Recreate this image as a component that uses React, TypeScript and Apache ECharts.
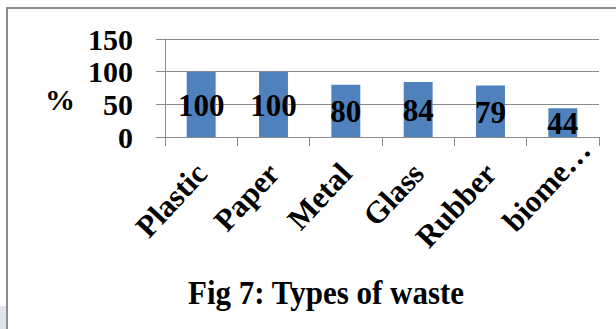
import React, { useEffect, useRef } from "react";
import * as echarts from "echarts";

// Share of each waste type (%)
const categories = ["Plastic", "Paper", "Metal", "Glass", "Rubber", "biome…"];
const values = [100, 100, 80, 84, 79, 44];
const yTicks = [0, 50, 100, 150];

const SERIF = '"Liberation Serif", "Times New Roman", serif';
const GRID_GRAY = "#8a8a8a";

export default function App() {
  const ref = useRef<HTMLDivElement>(null);

  useEffect(() => {
    if (!ref.current) return;
    const chart = echarts.init(ref.current, undefined, { renderer: "svg" });

    const yMin = yTicks[0];
    const yMax = yTicks[yTicks.length - 1];
    const yStep = yTicks[1] - yTicks[0];

    chart.setOption({
      animation: false,
      backgroundColor: "#ffffff",
      grid: { left: 165, right: 17, top: 39, bottom: 192, containLabel: false },
      xAxis: {
        type: "category",
        data: categories.map((c, i) =>
          i === categories.length - 1
            ? { value: c, textStyle: { align: "center", padding: [0, 48, 0, 0] } }
            : c
        ),
        boundaryGap: true,
        axisLine: { show: true, lineStyle: { color: GRID_GRAY, width: 1 } },
        axisTick: { show: true, length: 9, alignWithLabel: false, lineStyle: { color: GRID_GRAY } },
        axisLabel: {
          interval: 0,
          rotate: 47,
          margin: 31,
          color: "#000",
          fontFamily: SERIF,
          fontWeight: "bold",
          fontSize: 31,
        },
      },
      yAxis: {
        type: "value",
        min: yMin,
        max: yMax,
        interval: yStep,
        axisLine: { show: true, lineStyle: { color: GRID_GRAY, width: 1 } },
        axisTick: { show: true, length: 9, lineStyle: { color: GRID_GRAY } },
        splitLine: { show: true, lineStyle: { color: GRID_GRAY, width: 1 } },
        axisLabel: {
          margin: 32,
          color: "#000",
          fontFamily: SERIF,
          fontWeight: "bold",
          fontSize: 30,
        },
      },
      series: [
        {
          type: "bar",
          data: values,
          barWidth: "40%",
          itemStyle: { color: "#4F81BD" },
          label: {
            show: true,
            position: "inside",
            offset: [0, 1],
            color: "#000",
            fontFamily: SERIF,
            fontWeight: "bold",
            fontSize: 31,
          },
        },
      ],
      graphic: [
        {
          type: "rect",
          shape: { x: 0, y: 306, width: 6, height: 23 },
          style: { fill: "#dfe5ea" },
          silent: true,
        },
        {
          type: "polyline",
          shape: { points: [[7, 329], [7, 8], [616, 8]] },
          style: { stroke: "#8c8c8c", lineWidth: 2, fill: null },
          silent: true,
        },
        {
          type: "text",
          x: 60,
          y: 99,
          style: {
            text: "%",
            fill: "#000",
            font: `bold 30px ${SERIF}`,
            textAlign: "center",
            textVerticalAlign: "middle",
          },
        },
        {
          type: "text",
          x: 326,
          y: 292,
          scaleY: 1.1,
          style: {
            text: "Fig 7: Types of waste",
            fill: "#000",
            font: `bold 31px ${SERIF}`,
            textAlign: "center",
            textVerticalAlign: "middle",
          },
        },
      ],
    });

    return () => chart.dispose();
  }, []);

  return (
    <div
      ref={ref}
      style={{ position: "fixed", left: 0, top: 0, width: 616, height: 329 }}
    />
  );
}
